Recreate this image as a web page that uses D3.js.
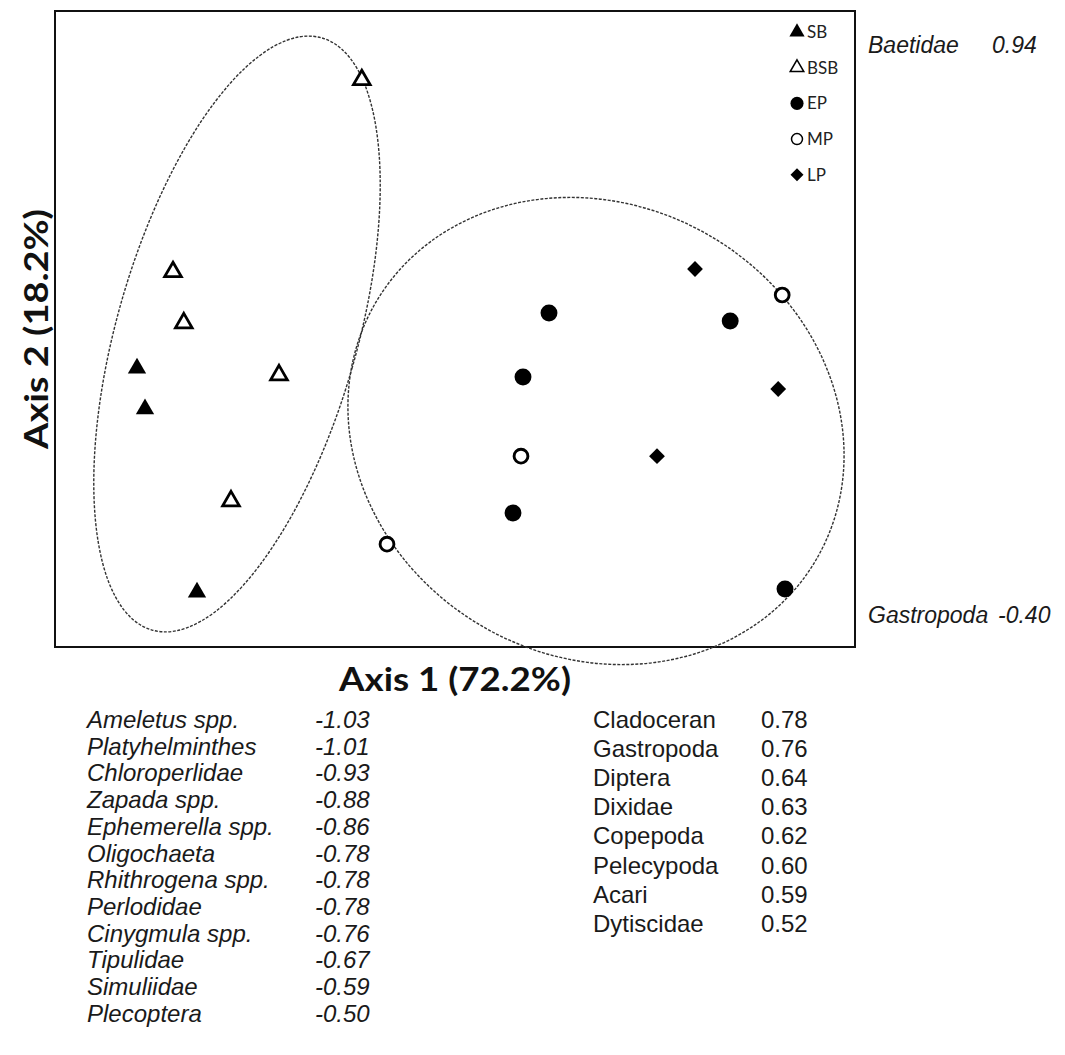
<!DOCTYPE html>
<html>
<head>
<meta charset="utf-8">
<script src="https://cdn.jsdelivr.net/npm/d3@7"></script>
<style>
  body { margin: 0; background: #fff; }
  svg { display: block; }
</style>
</head>
<body>
<div id="chart"></div>
<script>
// ordination scores (axis units)
var groups = ["SB", "BSB", "EP", "MP", "LP"];
var sbPts  = [[-0.795, -0.098], [-0.775, -0.200], [-0.645, -0.658]];
var bsbPts = [[-0.233, 0.623], [-0.705, 0.143], [-0.678, 0.015], [-0.440, -0.115], [-0.560, -0.430]];
var epPts  = [[0.235, 0.040], [0.170, -0.120], [0.688, 0.020], [0.145, -0.460], [0.825, -0.650]];
var mpPts  = [[0.818, 0.085], [0.165, -0.318], [-0.170, -0.538]];
var lpPts  = [[0.600, 0.150], [0.808, -0.150], [0.505, -0.318]];

// group ellipses (centre, semi axes, tilt in degrees)
var ellipses = [
  {cx: -0.545, cy: -0.0125, rx: 0.300, ry: 0.770, angle: 16},
  {cx: 0.3525, cy: -0.255, rx: 0.6375, ry: 0.565, angle: 30}
];

var axis1Label = "Axis 1 (72.2%)";
var axis2Label = "Axis 2 (18.2%)";

var axis2Taxa = ["Baetidae", "Gastropoda"];
var axis2Vals = ["0.94", "-0.40"];

var negTaxa = ["Ameletus spp.", "Platyhelminthes", "Chloroperlidae", "Zapada spp.", "Ephemerella spp.",
  "Oligochaeta", "Rhithrogena spp.", "Perlodidae", "Cinygmula spp.", "Tipulidae", "Simuliidae", "Plecoptera"];
var negVals = ["-1.03", "-1.01", "-0.93", "-0.88", "-0.86", "-0.78", "-0.78", "-0.78", "-0.76", "-0.67", "-0.59", "-0.50"];

var posTaxa = ["Cladoceran", "Gastropoda", "Diptera", "Dixidae", "Copepoda", "Pelecypoda", "Acari", "Dytiscidae"];
var posVals = ["0.78", "0.76", "0.64", "0.63", "0.62", "0.60", "0.59", "0.52"];

var W = 1065, H = 1055;
var box = {left: 55, top: 11, right: 855, bottom: 647};
var arial = "'Liberation Sans', Arial, sans-serif";
var calib = "Lato, 'Open Sans', sans-serif";

var svg = d3.select("#chart").append("svg")
  .attr("width", W).attr("height", H);

var x = d3.scaleLinear().domain([-1, 1]).range([box.left, box.right]);
var y = d3.scaleLinear().domain([-0.795, 0.795]).range([box.bottom, box.top]);

// plot frame
svg.append("rect")
  .attr("x", box.left).attr("y", box.top)
  .attr("width", box.right - box.left).attr("height", box.bottom - box.top)
  .attr("fill", "none").attr("stroke", "#111").attr("stroke-width", 2);

// ellipses
svg.selectAll(".ell")
  .data(ellipses)
  .enter().append("ellipse")
  .attr("class", "ell")
  .attr("cx", function(d) { return x(d.cx); })
  .attr("cy", function(d) { return y(d.cy); })
  .attr("rx", function(d) { return x(d.cx + d.rx) - x(d.cx); })
  .attr("ry", function(d) { return x(d.cx + d.ry) - x(d.cx); })
  .attr("transform", function(d) { return "rotate(" + d.angle + "," + x(d.cx) + "," + y(d.cy) + ")"; })
  .attr("fill", "none")
  .attr("stroke", "#333")
  .attr("stroke-width", 1.4)
  .attr("stroke-dasharray", "3,1.5");

// marker styles per group
var styles = {
  SB:  {type: d3.symbolTriangle, size: 145, fill: "#000", stroke: "none", sw: 0, rot: 0, lsize: 100},
  BSB: {type: d3.symbolTriangle, size: 120, fill: "#fff", stroke: "#000", sw: 2.8, rot: 0, lsize: 80},
  EP:  {type: d3.symbolCircle, size: 225, fill: "#000", stroke: "none", sw: 0, rot: 0, lsize: 135},
  MP:  {type: d3.symbolCircle, size: 150, fill: "#fff", stroke: "#000", sw: 2.9, rot: 0, lsize: 95},
  LP:  {type: d3.symbolSquare, size: 125, fill: "#000", stroke: "none", sw: 0, rot: 45, lsize: 85}
};

var allPts = [];
[sbPts, bsbPts, epPts, mpPts, lpPts].forEach(function(arr, gi) {
  arr.forEach(function(p) { allPts.push({g: groups[gi], px: p[0], py: p[1]}); });
});

svg.selectAll(".pt")
  .data(allPts)
  .enter().append("path")
  .attr("class", "pt")
  .attr("d", function(d) { return d3.symbol(styles[d.g].type, styles[d.g].size)(); })
  .attr("transform", function(d) {
    return "translate(" + x(d.px) + "," + y(d.py) + ") rotate(" + styles[d.g].rot + ")";
  })
  .attr("fill", function(d) { return styles[d.g].fill; })
  .attr("stroke", function(d) { return styles[d.g].stroke; })
  .attr("stroke-width", function(d) { return styles[d.g].sw; })
  .attr("stroke-linejoin", "miter");

// legend
var leg = svg.append("g").attr("transform", "translate(797,32)");
var legRow = leg.selectAll("g").data(groups).enter().append("g")
  .attr("transform", function(d, i) { return "translate(0," + (i * 35.7) + ")"; });
legRow.append("path")
  .attr("d", function(d) { return d3.symbol(styles[d].type, styles[d].lsize)(); })
  .attr("transform", function(d) { return "rotate(" + styles[d].rot + ")"; })
  .attr("fill", function(d) { return styles[d].fill; })
  .attr("stroke", function(d) { return styles[d].stroke; })
  .attr("stroke-width", function(d) { return styles[d].sw ? 1.5 : 0; });
legRow.append("text")
  .attr("x", 10).attr("y", 6)
  .style("font-family", calib)
  .attr("font-size", 17)
  .attr("fill", "#222")
  .text(function(d) { return d; });

// axis titles
svg.append("text")
  .attr("x", (box.left + box.right) / 2).attr("y", 691)
  .attr("text-anchor", "middle")
  .style("font-family", calib)
  .attr("font-weight", "bold")
  .attr("font-size", 33)
  .attr("textLength", 232).attr("lengthAdjust", "spacingAndGlyphs")
  .attr("fill", "#111")
  .text(axis1Label);

svg.append("text")
  .attr("transform", "translate(48,329) rotate(-90)")
  .attr("text-anchor", "middle")
  .style("font-family", calib)
  .attr("font-weight", "bold")
  .attr("font-size", 33)
  .attr("textLength", 240).attr("lengthAdjust", "spacingAndGlyphs")
  .attr("fill", "#111")
  .text(axis2Label);

// axis 2 loadings on the right
var a2y = [53, 623];
var a2 = svg.selectAll(".a2").data(axis2Taxa).enter().append("g").attr("class", "a2");
a2.append("text")
  .attr("x", 868).attr("y", function(d, i) { return a2y[i]; })
  .text(function(d) { return d; });
a2.append("text")
  .attr("x", function(d, i) { return i === 0 ? 992 : 998; })
  .attr("y", function(d, i) { return a2y[i]; })
  .text(function(d, i) { return axis2Vals[i]; });
a2.selectAll("text")
  .style("font-family", arial)
  .attr("font-style", "italic").attr("font-size", 23).attr("fill", "#1a1a1a");

// axis 1 loading tables
function table(names, vals, x0, x1, y0, step, italic) {
  var g = svg.append("g");
  var rows = g.selectAll("g").data(names).enter().append("g");
  rows.append("text")
    .attr("x", x0).attr("y", function(d, i) { return y0 + i * step; })
    .text(function(d) { return d; });
  rows.append("text")
    .attr("x", x1).attr("y", function(d, i) { return y0 + i * step; })
    .text(function(d, i) { return vals[i]; });
  g.selectAll("text")
    .style("font-family", arial)
    .attr("font-style", italic ? "italic" : "normal")
    .attr("font-size", 24)
    .attr("fill", "#1a1a1a");
}
table(negTaxa, negVals, 87, 315, 728, 26.7, true);
table(posTaxa, posVals, 593, 761, 728, 29.1, false);
</script>
</body>
</html>
